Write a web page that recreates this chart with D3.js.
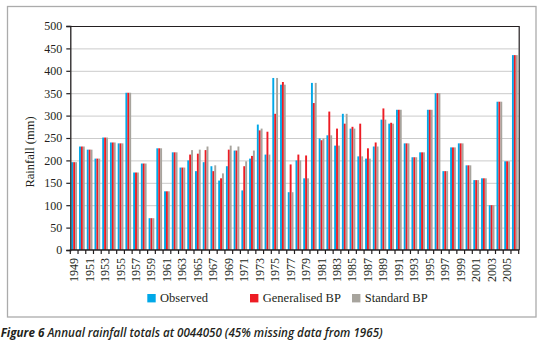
<!DOCTYPE html>
<html>
<head>
<meta charset="utf-8">
<script src="https://cdn.jsdelivr.net/npm/d3@7"></script>
<style>
  html, body { margin: 0; padding: 0; background: #fff; }
  svg { display: block; }
  .serif { font-family: 'Liberation Serif', 'DejaVu Serif', serif; fill: #231f20; }
</style>
</head>
<body>
<div id="chart"></div>
<script>
const years = d3.range(1949, 2007)

const observed = [
  196, 231, 224, 204, 251, 240, 238, 351, 173, 193, 71, 227, 131, 218, 184,
  200, 176, 196, 187, 155, 187, 222, 133, 204, 280, 213, 384, 369, 129, 200,
  160, 373, 249, 256, 233, 304, 271, 209, 204, 231, 291, 282, 313, 238, 207,
  218, 313, 350, 176, 229, 238, 189, 156, 160, 100, 331, 198, 435
]

const generalisedBP = [
  196, 231, 224, 204, 251, 240, 238, 351, 173, 193, 71, 227, 131, 218, 184,
  213, 215, 223, 176, 160, 224, 222, 187, 210, 267, 264, 304, 375, 191, 213,
  211, 328, 245, 309, 271, 282, 275, 282, 227, 240, 316, 284, 313, 238, 207,
  218, 313, 350, 176, 229, 238, 189, 156, 160, 100, 331, 198, 435
]

const standardBP = [
  196, 231, 224, 204, 251, 240, 238, 351, 173, 193, 71, 227, 131, 218, 184,
  223, 224, 231, 189, 171, 233, 231, 198, 222, 271, 213, 384, 369, 129, 200,
  160, 373, 249, 256, 233, 304, 271, 209, 204, 231, 291, 282, 313, 238, 207,
  218, 313, 350, 176, 229, 238, 189, 156, 160, 100, 331, 198, 435
]

const seriesNames = ['Observed', 'Generalised BP', 'Standard BP']
const seriesColors = ['#00a8e8', '#ed1c24', '#a7a49d']
const yTicks = d3.range(0, 501, 50)

const width = 542
const height = 343
const margin = { top: 26, right: 23.3, bottom: 93, left: 70.3 }

const svg = d3.select('#chart')
  .append('svg')
  .attr('width', width)
  .attr('height', height)

// outer frame
svg.append('rect')
  .attr('x', 7.5)
  .attr('y', 6.5)
  .attr('width', 528.5)
  .attr('height', 310.5)
  .attr('fill', 'none')
  .attr('stroke', '#ababab')
  .attr('stroke-width', 1.3)

const x = d3.scaleBand()
  .domain(years)
  .range([margin.left, width - margin.right])
  .paddingInner(0.26)
  .paddingOuter(0.13)

const x1 = d3.scaleBand()
  .domain(seriesNames)
  .range([0, x.bandwidth()])

const y = d3.scaleLinear()
  .domain([0, 500])
  .range([height - margin.bottom, margin.top])

const plotRight = width - margin.right
const plotBottom = y(0)

// gridlines
svg.append('g')
  .selectAll('line')
  .data(yTicks.filter(d => d > 0 && d < 500))
  .join('line')
  .attr('x1', margin.left)
  .attr('x2', plotRight)
  .attr('y1', d => y(d) + 0.5)
  .attr('y2', d => y(d) + 0.5)
  .attr('stroke', '#cbcbcb')
  .attr('stroke-width', 1)

// bars
const rows = years.map((yr, i) => ({
  year: yr,
  values: [observed[i], generalisedBP[i], standardBP[i]]
}))

const groups = svg.append('g')
  .selectAll('g')
  .data(rows)
  .join('g')
  .attr('transform', d => `translate(${x(d.year)},0)`)

groups.selectAll('rect')
  .data(d => d.values.map((v, k) => ({ key: seriesNames[k], value: v, color: seriesColors[k] })))
  .join('rect')
  .attr('x', d => x1(d.key))
  .attr('width', x1.bandwidth())
  .attr('y', d => y(d.value))
  .attr('height', d => plotBottom - y(d.value))
  .attr('fill', d => d.color)

// plot border: top and right
svg.append('path')
  .attr('d', `M${margin.left},${margin.top + 0.5}H${plotRight + 0.5}V${plotBottom}`)
  .attr('fill', 'none')
  .attr('stroke', '#231f20')
  .attr('stroke-width', 1.2)

// y axis
const yAxis = svg.append('g')
  .attr('transform', `translate(${margin.left},0)`)
  .call(d3.axisLeft(y).tickValues(yTicks).tickSize(4).tickPadding(4))

yAxis.select('.domain').attr('stroke', '#231f20').attr('stroke-width', 1.3)
yAxis.selectAll('.tick line').attr('stroke', '#231f20').attr('stroke-width', 1.2)
yAxis.selectAll('.tick text')
  .attr('class', 'serif')
  .style('font-size', '12px')

// x axis: ticks at category boundaries
const step = x.step()
const boundaries = years.map(yr => x(yr) - step * x.paddingInner() / 2).concat([plotRight])

svg.append('line')
  .attr('x1', margin.left - 0.6)
  .attr('x2', plotRight + 0.6)
  .attr('y1', plotBottom)
  .attr('y2', plotBottom)
  .attr('stroke', '#231f20')
  .attr('stroke-width', 1.3)

svg.append('g')
  .selectAll('line')
  .data(boundaries)
  .join('line')
  .attr('x1', d => d)
  .attr('x2', d => d)
  .attr('y1', plotBottom)
  .attr('y2', plotBottom + 4)
  .attr('stroke', '#231f20')
  .attr('stroke-width', 1.2)

svg.append('g')
  .selectAll('text')
  .data(years.filter((yr, i) => i % 2 === 0))
  .join('text')
  .attr('class', 'serif')
  .attr('transform', d => `translate(${x(d) + x.bandwidth() / 2 + 4},${plotBottom + 8}) rotate(-90)`)
  .attr('text-anchor', 'end')
  .style('font-size', '12px')
  .text(d => d)

// y axis title
svg.append('text')
  .attr('class', 'serif')
  .attr('transform', `translate(34,152) rotate(-90)`)
  .attr('text-anchor', 'middle')
  .style('font-size', '12.5px')
  .text('Rainfall (mm)')

// legend
const legendX = [147.3, 250, 352]
const legend = svg.append('g')
  .selectAll('g')
  .data(seriesNames)
  .join('g')
  .attr('transform', (d, i) => `translate(${legendX[i]},294)`)

legend.append('rect')
  .attr('width', 8.4)
  .attr('height', 8.4)
  .attr('fill', (d, i) => seriesColors[i])

legend.append('text')
  .attr('class', 'serif')
  .attr('x', 12.8)
  .attr('y', 8.3)
  .style('font-size', '12.5px')
  .text(d => d)

// caption
const caption = svg.append('text')
  .attr('x', 0.7)
  .attr('y', 336.5)
  .attr('textLength', 382)
  .attr('lengthAdjust', 'spacingAndGlyphs')
  .style('font-family', "'Liberation Sans Narrow', 'Open Sans', sans-serif")
  .style('font-style', 'italic')
  .style('font-weight', 600)
  .style('font-size', '13px')
  .style('fill', '#231f20')

caption.append('tspan')
  .style('font-weight', 'bold')
  .text('Figure 6')

caption.append('tspan')
  .text(' Annual rainfall totals at 0044050 (45% missing data from 1965)')
</script>
</body>
</html>
